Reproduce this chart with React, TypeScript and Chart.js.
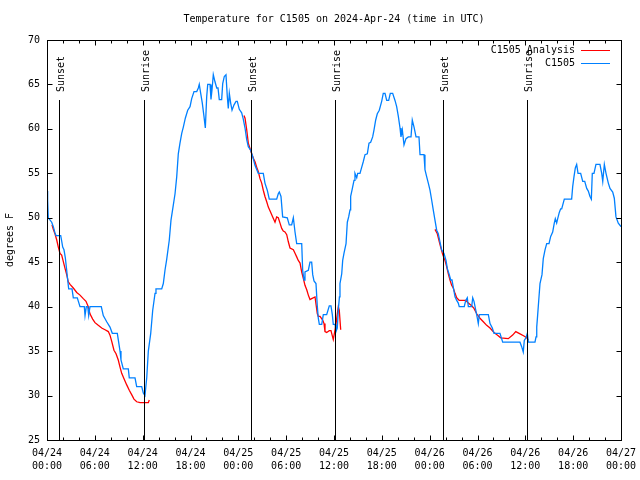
import React, { useEffect, useRef } from 'react';
import { Chart, registerables } from 'chart.js';

Chart.register(...registerables);

const FONT = '"DejaVu Sans Mono", "Liberation Mono", monospace';

const chartTitle = 'Temperature for C1505 on 2024-Apr-24 (time in UTC)';
const yAxisTitle = 'degrees F';
const analysisLabel = 'C1505 Analysis';
const stationLabel = 'C1505';

// hours since 2024-04-24 00:00 UTC
const tickDates = ['04/24', '04/24', '04/24', '04/24', '04/25', '04/25', '04/25', '04/25', '04/26', '04/26', '04/26', '04/26', '04/27'];
const tickTimes = ['00:00', '06:00', '12:00', '18:00', '00:00', '06:00', '12:00', '18:00', '00:00', '06:00', '12:00', '18:00', '00:00'];

const sunsetHours = [1.54, 25.63, 49.71];
const sunriseHours = [12.2, 36.16, 60.25];

const stationHours = [
  0.0, 0.08, 0.16, 0.59, 0.79, 1.0, 1.13, 1.72, 1.82, 1.97, 2.13, 2.3, 2.47, 2.55, 2.72, 3.14, 3.3, 3.8, 4.14, 4.68,
  4.77, 4.93, 5.11, 5.23, 5.39, 6.81, 7.06, 7.49, 7.9, 8.19, 8.82, 9.16, 9.28, 9.57, 10.2, 10.32, 11.04, 11.25, 11.88, 12.08,
  12.29, 12.51, 12.71, 13.01, 13.26, 13.55, 13.67, 14.39, 14.59, 14.8, 15.01, 15.34, 15.55, 15.77, 16.06, 16.27, 16.47, 16.68, 16.9, 17.1,
  17.35, 17.65, 17.94, 18.15, 18.44, 18.78, 18.98, 19.1, 19.28, 19.48, 19.69, 19.86, 20.03, 20.16, 20.45, 20.57, 20.7, 20.86, 21.07, 21.29,
  21.45, 21.61, 21.91, 22.04, 22.24, 22.45, 22.62, 22.74, 22.87, 23.04, 23.21, 23.46, 23.71, 23.87, 24.12, 24.42, 24.62, 24.84, 25.05, 25.25,
  25.55, 25.8, 26.09, 26.5, 27.13, 27.34, 27.63, 27.88, 28.81, 29.01, 29.14, 29.35, 29.56, 30.14, 30.39, 30.69, 30.9, 31.11, 31.32, 31.95,
  32.07, 32.24, 32.36, 32.78, 32.99, 33.2, 33.33, 33.49, 33.74, 33.91, 34.03, 34.16, 34.46, 34.66, 35.08, 35.41, 35.62, 35.79, 35.91, 36.13,
  36.25, 36.41, 36.54, 36.68, 36.75, 36.97, 37.09, 37.25, 37.51, 37.67, 37.84, 38.01, 38.09, 38.26, 38.51, 38.63, 38.85, 38.97, 39.26, 39.48,
  39.67, 39.89, 40.18, 40.39, 40.6, 40.85, 41.02, 41.23, 41.43, 41.68, 41.98, 42.18, 42.4, 42.61, 42.86, 43.06, 43.36, 43.65, 43.86, 44.07,
  44.28, 44.4, 44.57, 44.78, 45.03, 45.32, 45.66, 45.82, 46.04, 46.29, 46.66, 46.79, 47.29, 47.41, 47.63, 47.83, 48.04, 48.25, 48.45, 48.67,
  48.88, 49.08, 49.29, 49.5, 49.79, 50.05, 50.21, 50.46, 50.64, 50.8, 50.96, 51.18, 51.39, 51.59, 51.71, 52.34, 52.52, 52.72, 52.85, 53.27,
  53.4, 53.56, 53.78, 53.98, 54.1, 54.23, 55.36, 55.57, 55.86, 56.07, 56.82, 57.16, 59.33, 59.54, 59.74, 59.87, 60.08, 60.25, 60.38, 61.21,
  61.34, 61.43, 61.55, 61.68, 61.84, 62.09, 62.25, 62.47, 62.68, 62.97, 63.18, 63.43, 63.63, 63.76, 63.93, 64.06, 64.26, 64.43, 64.56, 64.89,
  65.81, 65.94, 66.1, 66.27, 66.44, 66.61, 66.94, 67.2, 67.45, 67.7, 67.9, 68.11, 68.28, 68.4, 68.61, 68.86, 69.36, 69.58, 69.71, 69.91,
  70.12, 70.41, 70.62, 70.96, 71.16, 71.37, 71.66, 72.0,
];
const stationTemps = [
  53, 52, 50, 49.5, 49, 48.3, 48, 48, 47.5, 46.7, 46.4, 45.5, 44.1, 43.4, 42, 42, 41, 41, 40, 40,
  39, 40, 40, 39, 40, 40, 39, 38.3, 37.7, 37, 37, 35, 34, 33, 33, 32, 32, 31, 31, 30.3,
  30, 32, 35, 37, 39.6, 41.5, 42, 42, 42.6, 44.1, 45.3, 47.5, 49.7, 51, 52.7, 54.6, 57.2, 58.4, 59.5, 60.2,
  61.2, 62.1, 62.5, 63.4, 64.2, 64.2, 64.6, 65, 64, 62.9, 61.4, 60.1, 63.6, 65, 65, 63.3, 64.4, 66.1, 65.3, 64.6,
  64.6, 63.3, 63.3, 65.1, 65.9, 66.1, 63.6, 62.3, 64, 62.9, 62.1, 62.7, 63.1, 63.1, 62.2, 61.8, 61.1, 60.1, 58.8, 58,
  57.6, 56.9, 55.9, 55, 55, 53.9, 53.1, 52.1, 52.1, 52.7, 52.9, 52.4, 50.1, 50, 49.2, 49.2, 50, 48.4, 47.1, 47.1,
  44.1, 43, 43.9, 44.1, 45, 45, 43.6, 42.9, 42.6, 40, 38.7, 38, 38, 39.1, 39.1, 40.1, 40.1, 39.1, 38, 38,
  37.2, 37.6, 39.6, 41.1, 42.6, 43.7, 45.2, 46, 47.1, 49.5, 50.1, 50.9, 52.4, 53.1, 54.2, 55, 54.5, 55, 55, 55.7,
  56.3, 57.1, 57.2, 58.4, 58.5, 59.1, 59.9, 61, 61.7, 62.1, 63.1, 64, 64, 63.2, 63.2, 64, 64, 63.2, 62.5, 61.4,
  60.1, 59.1, 59.9, 58.2, 58.9, 59.1, 59.1, 61, 60.2, 59.1, 59.1, 57.1, 57.1, 55.4, 54.6, 53.9, 53.1, 52, 50.9, 49.7,
  48.6, 48.2, 47.3, 46.4, 46, 45.2, 44.3, 43.6, 43, 43, 42.2, 41.1, 40.7, 40.4, 40, 40, 40.7, 41, 40, 40,
  41, 40.6, 39.6, 38.7, 38.1, 39.1, 39.1, 38.1, 37.6, 37, 37, 36, 36, 35.5, 34.9, 36.2, 36.5, 37, 36, 36,
  36.6, 37.7, 39.1, 40.7, 42.6, 43.6, 45.4, 46.4, 47.1, 47.1, 47.9, 48.4, 49.4, 49.9, 49.4, 49.9, 50.6, 51, 51, 52.1,
  52.1, 53.5, 54.6, 55.6, 56, 55, 55, 54.1, 54.1, 53.3, 53, 52.4, 52.1, 55, 55, 56, 56, 55, 54.1, 56,
  55, 53.9, 53.3, 52.9, 52.2, 50.1, 49.4, 49,
];

const analysisNight1Hours = [
  0.63, 0.79, 1.0, 1.22, 1.42, 1.63, 1.84, 2.04, 2.26, 2.47, 2.67, 2.89, 3.3, 3.73, 4.14, 4.55, 4.89, 5.18, 5.39, 5.73,
  6.02, 6.43, 6.86, 7.28, 7.69, 7.9, 8.12, 8.4, 8.66, 8.94, 9.16, 9.37, 9.66, 10.0, 10.32, 10.62, 10.91, 11.25, 11.67, 12.29,
  12.71, 12.83,
];
const analysisNight1Temps = [
  49.2, 48.7, 48.2, 47.5, 46.7, 46, 45.8, 45.1, 44.3, 43.6, 42.8, 42.5, 42.1, 41.6, 41.3, 40.9, 40.6, 40, 39.2, 38.6,
  38.2, 37.9, 37.6, 37.4, 37.2, 36.8, 36.1, 35.1, 34.7, 34, 33.2, 32.5, 31.9, 31.2, 30.6, 30.1, 29.6, 29.3, 29.2, 29.2,
  29.2, 29.5,
];
const analysisNight2Hours = [
  24.71, 24.84, 25.05, 25.25, 25.46, 25.68, 25.88, 26.09, 26.3, 26.5, 26.72, 26.93, 27.13, 27.34, 27.56, 27.76, 27.97, 28.31, 28.6, 28.81,
  29.01, 29.23, 29.44, 29.64, 29.85, 30.07, 30.27, 30.48, 30.9, 31.11, 31.32, 31.52, 31.74, 31.95, 32.15, 32.36, 32.58, 32.78, 32.99, 33.2,
  33.62, 33.74, 33.91, 34.03, 34.25, 34.58, 34.75, 34.87, 35.08, 35.41, 35.62, 35.71, 35.91, 36.09, 36.25, 36.34, 36.54, 36.66, 36.84,
];
const analysisNight2Temps = [
  61.5, 61.2, 59.9, 58.4, 57.8, 57.2, 56.7, 56.3, 55.7, 55.2, 54.4, 53.9, 53.1, 52.4, 51.8, 51.2, 50.8, 50.1, 49.5, 50.1,
  50, 49.4, 48.8, 48.5, 48.4, 48.1, 47.3, 46.6, 46.4, 46, 45.6, 45.2, 44.9, 43.9, 43.2, 42.4, 41.9, 41.3, 40.8, 40.9,
  41.1, 41.1, 39.2, 38.9, 38.9, 38.5, 38.1, 37.2, 37.1, 37.3, 37.3, 37, 36.3, 37.2, 38, 38.7, 40, 39.6, 37.4,
];
const analysisNight3Hours = [
  48.67, 48.96, 49.21, 49.38, 49.63, 49.92, 50.13, 50.34, 50.55, 50.76, 50.96, 51.18, 51.39, 51.71, 52.55, 52.85, 53.27, 53.56, 53.9, 54.31,
  54.73, 55.15, 55.57, 56.07, 56.48, 56.91, 57.86, 58.41, 58.8, 59.22, 59.83, 60.17, 60.38,
];
const analysisNight3Temps = [
  48.7, 48.2, 47.3, 46.7, 45.9, 45.2, 44.5, 43.7, 43, 42.4, 42.1, 41.5, 41, 40.7, 40.7, 40.4, 40.1, 39.8, 39.2, 38.7,
  38.3, 37.9, 37.6, 37.1, 36.8, 36.5, 36.4, 36.8, 37.2, 37, 36.7, 36.5, 36.2,
];

const ANALYSIS_COLOR = '#ff0000';
const STATION_COLOR = '#0080ff';

function toPoints(hours: number[], temps: number[]) {
  return hours.map((h, i) => ({ x: h, y: temps[i] as number | null }));
}

const overlayPlugin = {
  id: 'gnuplotOverlay',
  afterDatasetsDraw(chart: any) {
    const { ctx, chartArea: a, scales } = chart;
    const xs = scales.x;
    const h = a.bottom - a.top;
    ctx.save();
    ctx.strokeStyle = '#000';
    ctx.fillStyle = '#000';
    ctx.lineWidth = 1;
    ctx.font = `10px ${FONT}`;
    const events: [number, string][] = [
      ...sunsetHours.map((v) => [v, 'Sunset'] as [number, string]),
      ...sunriseHours.map((v) => [v, 'Sunrise'] as [number, string]),
    ];
    for (const [hour, label] of events) {
      const px = Math.round(xs.getPixelForValue(hour)) + 0.5;
      ctx.beginPath();
      ctx.moveTo(px, Math.round(a.top + 0.15 * h));
      ctx.lineTo(px, a.bottom);
      ctx.stroke();
      ctx.save();
      ctx.translate(px + 1.5, a.top + 0.13 * h);
      ctx.rotate(-Math.PI / 2);
      ctx.textAlign = 'left';
      ctx.textBaseline = 'middle';
      ctx.fillText(label, 0, 0);
      ctx.restore();
    }
    ctx.restore();
  },
  afterDraw(chart: any) {
    const { ctx, chartArea: a, scales } = chart;
    const xs = scales.x;
    const ys = scales.y;
    ctx.save();
    ctx.strokeStyle = '#000';
    ctx.fillStyle = '#000';
    ctx.lineWidth = 1;
    const L = Math.round(a.left) + 0.5;
    const R = Math.round(a.right) + 0.5;
    const T = Math.round(a.top) + 0.5;
    const B = Math.round(a.bottom) + 0.5;
    ctx.strokeRect(L, T, R - L, B - T);
    ctx.beginPath();
    const majors: number[] = xs.ticks.map((t: any) => t.value);
    majors.forEach((v: number, i: number) => {
      const marks: [number, number][] = [[v, 5]];
      if (i < majors.length - 1) {
        const step = (majors[i + 1] - v) / 3;
        marks.push([v + step, 3], [v + 2 * step, 3]);
      }
      for (const [val, len] of marks) {
        const px = Math.round(xs.getPixelForValue(val)) + 0.5;
        ctx.moveTo(px, B);
        ctx.lineTo(px, B - len);
        ctx.moveTo(px, T);
        ctx.lineTo(px, T + len);
      }
    });
    ys.ticks.forEach((t: any) => {
      const py = Math.round(ys.getPixelForValue(t.value)) + 0.5;
      ctx.moveTo(L, py);
      ctx.lineTo(L + 5, py);
      ctx.moveTo(R, py);
      ctx.lineTo(R - 5, py);
    });
    ctx.stroke();

    // title
    ctx.font = `10px ${FONT}`;
    ctx.textAlign = 'center';
    ctx.textBaseline = 'middle';
    ctx.fillText(chartTitle, (a.left + a.right) / 2, 19);

    // legend
    const entries: [string, string][] = [
      [analysisLabel, ANALYSIS_COLOR],
      [stationLabel, STATION_COLOR],
    ];
    entries.forEach(([label, color], i) => {
      const y = a.top + 10 + i * 13;
      ctx.fillStyle = '#000';
      ctx.textAlign = 'right';
      ctx.fillText(label, a.right - 46, y);
      ctx.strokeStyle = color;
      ctx.beginPath();
      ctx.moveTo(a.right - 40, Math.round(y) + 0.5);
      ctx.lineTo(a.right - 11, Math.round(y) + 0.5);
      ctx.stroke();
    });
    ctx.restore();
  },
};

export default function App() {
  const canvasRef = useRef<HTMLCanvasElement | null>(null);

  useEffect(() => {
    if (!canvasRef.current) return;
    const gap = { x: 0, y: null as number | null };
    const analysisData = [
      ...toPoints(analysisNight1Hours, analysisNight1Temps),
      { ...gap, x: 18 },
      ...toPoints(analysisNight2Hours, analysisNight2Temps),
      { ...gap, x: 42 },
      ...toPoints(analysisNight3Hours, analysisNight3Temps),
    ];
    const chart = new Chart(canvasRef.current, {
      type: 'line',
      data: {
        datasets: [
          {
            label: stationLabel,
            data: toPoints(stationHours, stationTemps),
            borderColor: STATION_COLOR,
            backgroundColor: STATION_COLOR,
            borderWidth: 1.3,
            pointRadius: 0,
            tension: 0,
            fill: false,
          },
          {
            label: analysisLabel,
            data: analysisData,
            borderColor: ANALYSIS_COLOR,
            backgroundColor: ANALYSIS_COLOR,
            borderWidth: 1.3,
            pointRadius: 0,
            tension: 0,
            fill: false,
            spanGaps: false,
          },
        ],
      },
      options: {
        responsive: false,
        animation: false,
        devicePixelRatio: 1,
        parsing: true,
        layout: { padding: { top: 40, right: 19, left: 0, bottom: 0 } },
        plugins: {
          legend: { display: false },
          title: { display: false },
          tooltip: { enabled: false },
        },
        scales: {
          x: {
            type: 'linear',
            min: 0,
            max: 72,
            grid: { display: false, drawTicks: false },
            border: { display: false },
            ticks: {
              stepSize: 6,
              autoSkip: false,
              maxRotation: 0,
              minRotation: 0,
              padding: 7,
              color: '#000',
              font: { family: FONT, size: 10, lineHeight: 1.3 },
              callback: (v: any) => {
                const i = Math.round(Number(v) / 6);
                return [tickDates[i], tickTimes[i]];
              },
            },
            afterFit: (scale: any) => {
              scale.height = 40;
              scale.paddingLeft = 0;
              scale.paddingRight = 0;
            },
          },
          y: {
            min: 25,
            max: 70,
            grid: { display: false, drawTicks: false },
            border: { display: false },
            ticks: {
              stepSize: 5,
              padding: 7,
              color: '#000',
              font: { family: FONT, size: 10 },
            },
            title: {
              display: true,
              text: yAxisTitle,
              color: '#000',
              font: { family: FONT, size: 10 },
              padding: { top: 4, bottom: 4 },
            },
            afterFit: (scale: any) => {
              scale.width = 47;
              scale.paddingTop = 0;
              scale.paddingBottom = 0;
            },
          },
        },
      },
      plugins: [overlayPlugin],
    });
    return () => chart.destroy();
  }, []);

  return (
    <div style={{ position: 'absolute', left: 0, top: 0, width: 640, height: 480, background: '#fff' }}>
      <canvas ref={canvasRef} width={640} height={480} style={{ display: 'block' }} />
    </div>
  );
}
